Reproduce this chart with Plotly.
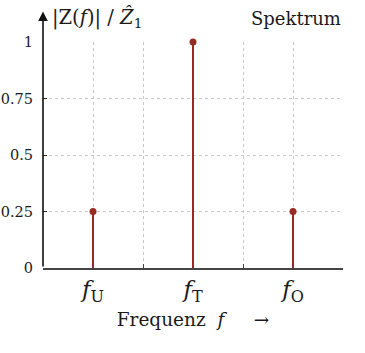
import plotly.graph_objects as go

# Data
freq_pos = [1, 3, 5]
amplitudes = [0.25, 1.0, 0.25]
x_tick_vals = [1, 2, 3, 4, 5, 6]
x_tick_text = ["<i>f</i><sub>U</sub>", "", "<i>f</i><sub>T</sub>", "", "<i>f</i><sub>O</sub>", ""]
y_tick_vals = [0, 0.25, 0.5, 0.75, 1]
y_tick_text = ["0", "0.25", "0.5", "0.75", "1"]

stem_color = "#9b2a22"
font_family = "DejaVu Serif"
txt = "#1a1a1a"

stem_x, stem_y = [], []
for xv, yv in zip(freq_pos, amplitudes):
    stem_x += [xv, xv, None]
    stem_y += [0, yv, None]

fig = go.Figure()
fig.add_trace(go.Scatter(x=stem_x, y=stem_y, mode="lines",
                         line=dict(color=stem_color, width=2),
                         hoverinfo="skip", showlegend=False, cliponaxis=False))
fig.add_trace(go.Scatter(x=freq_pos, y=amplitudes, mode="markers",
                         marker=dict(color=stem_color, size=7),
                         showlegend=False, cliponaxis=False))

fig.update_layout(
    width=365, height=353,
    margin=dict(l=43, r=22, t=42, b=85),
    plot_bgcolor="white", paper_bgcolor="white",
    font=dict(family=font_family, color=txt, size=15),
    xaxis=dict(range=[0, 6], tickvals=x_tick_vals, ticktext=x_tick_text, automargin=False,
               showgrid=True, gridcolor="#c8c8c8", griddash="dot", gridwidth=1,
               zeroline=False, showline=True, linecolor="#444444", linewidth=1.5,
               ticks="inside", ticklen=4, tickcolor="#444444",
               tickfont=dict(size=23, family=font_family, color=txt),
               title=dict(text="Frequenz  <i>f</i>     →", font=dict(size=18.5, family=font_family, color=txt),
                          standoff=8)),
    yaxis=dict(range=[0, 1], tickvals=y_tick_vals, ticktext=y_tick_text, automargin=False,
               showgrid=True, gridcolor="#c8c8c8", griddash="dot", gridwidth=1,
               zeroline=False, showline=False,
               ticks="inside", ticklen=4, tickcolor="#222222", ticklabelstandoff=9,
               tickfont=dict(size=14.5, family=font_family, color=txt)),
)

# y axis with arrow
fig.add_annotation(x=0, y=1.135, xref="x", yref="y", ax=0, ay=0, axref="x", ayref="y",
                   text="", showarrow=True, arrowhead=2, arrowsize=1.2, arrowwidth=1.6,
                   arrowcolor="#111111")
fig.add_annotation(x=0.022, y=1.105, xref="paper", yref="paper", xanchor="left", yanchor="middle",
                   text="|Z(<i>f</i>)| / <i>Z&#770;</i><sub>1</sub>", showarrow=False,
                   font=dict(size=19.5, family=font_family, color=txt))
fig.add_annotation(x=1.0, y=1.105, xref="paper", yref="paper", xanchor="right", yanchor="middle",
                   text="Spektrum", showarrow=False,
                   font=dict(size=18, family=font_family, color=txt))

fig.write_html("out.html")
